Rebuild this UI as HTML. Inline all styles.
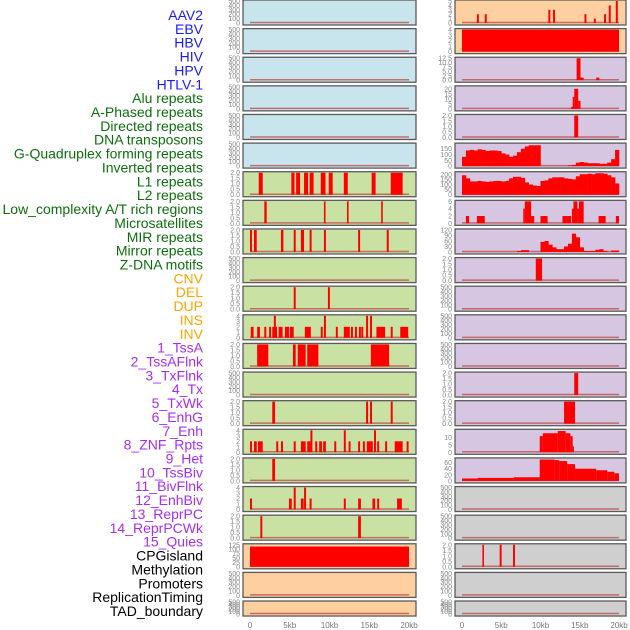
<!DOCTYPE html>
<html><head><meta charset="utf-8"><style>
html,body{margin:0;padding:0;background:#fff;}
svg{display:block;font-family:"Liberation Sans",sans-serif;}
</style></head><body>
<svg id="chart" width="630" height="630" viewBox="0 0 630 630" xmlns="http://www.w3.org/2000/svg"></svg>
<script>
// ---------- data ----------
const labels = ["AAV2","EBV","HBV","HIV","HPV","HTLV-1","Alu repeats","A-Phased repeats","Directed repeats","DNA transposons","G-Quadruplex forming repeats","Inverted repeats","L1 repeats","L2 repeats","Low_complexity A/T rich regions","Microsatellites","MIR repeats","Mirror repeats","Z-DNA motifs","CNV","DEL","DUP","INS","INV","1_TssA","2_TssAFlnk","3_TxFlnk","4_Tx","5_TxWk","6_EnhG","7_Enh","8_ZNF_Rpts","9_Het","10_TssBiv","11_BivFlnk","12_EnhBiv","13_ReprPC","14_ReprPCWk","15_Quies","CPGisland","Methylation","Promoters","ReplicationTiming","TAD_boundary"];
const labelGroups = [6,13,5,15,5];
const xTickValues = [0,5,10,15,20];
const xTickLabels = ["0","5kb","10kb","15kb","20kb"];
// left column: background kind, y-max, bars [startKb, widthKb, value]
const leftBg = ["b","b","b","b","b","b","g","g","g","g","g","g","g","g","g","g","g","g","g","o","o","o"];
const leftMax = [500,500,500,500,500,500,2,2,2,500,2,4,2,500,2,4,2,4,2,125,500,500];
const leftBars = [
 [],[],[],[],[],[],
 [[1.1,0.5,2],[5.2,0.4,2],[5.8,0.5,2],[6.8,0.5,2],[7.5,0.5,2],[8.9,0.6,2],[9.9,0.5,2],[11.8,0.5,2],[15.3,0.5,2],[17.7,1.5,2]],
 [[1.8,0.3,2],[9.3,0.2,2],[12.2,0.2,2],[16.5,0.2,2]],
 [[0,0.25,2],[0.5,0.35,2],[3.9,0.3,2],[5.5,0.25,2],[6.4,0.4,2],[7.5,0.25,2],[9.3,0.25,2],[13.6,0.25,2],[17.2,0.25,2]],
 [],
 [[5.5,0.25,2],[9.8,0.25,2]],
 [[0.1,0.35,2],[0.9,0.35,2],[1.8,0.25,2],[2.4,0.25,2],[2.8,0.6,2],[3.0,0.25,4],[3.6,0.5,2],[4.4,0.5,2],[5.0,0.5,2],[6.9,0.75,2],[8.9,0.25,2],[9.3,0.25,4],[10.8,0.25,2],[11.8,0.75,2],[12.7,0.25,2],[13.2,0.25,2],[13.7,0.25,2],[14.0,0.25,2],[14.6,0.25,4],[15.1,0.25,4],[15.9,1.1,2],[17.7,0.25,2],[18.9,1.0,2]],
 [[0.9,1.4,2],[5.4,0.35,2],[6.0,1.0,2],[7.2,1.4,2],[15.2,2.3,2]],
 [],
 [[2.8,0.35,2],[14.6,0.25,2],[15.1,0.25,2],[17.7,0.25,2]],
 [[0,0.25,2],[0.5,0.35,2],[1.0,0.6,2],[3.3,0.25,2],[3.9,0.25,2],[5.5,0.25,2],[6.4,0.6,2],[7.2,0.4,2],[7.6,0.25,4],[8.2,0.25,2],[8.7,0.35,2],[9.2,0.35,2],[10.6,0.25,2],[11.8,0.25,4],[12.4,0.25,2],[13.6,0.25,2],[14.2,0.25,2],[14.7,0.75,2],[15.6,0.25,4],[16.0,0.25,2],[17.0,0.25,2],[18.2,1.0,2],[19.7,0.25,2]],
 [[2.8,0.35,2]],
 [[0,0.25,2],[4.9,0.35,2],[5.5,0.25,4],[6.4,0.35,2],[6.8,0.25,4],[7.5,0.25,2],[11.8,0.25,2],[13.6,0.35,2],[15.4,0.35,2],[16.0,0.25,2],[18.5,0.6,2]],
 [[1.3,0.25,2],[13.6,0.35,2]],
 [[0,20,115]],
 [],[]
];
// right column
const rightBg = ["o","o","p","p","p","p","p","p","p","p","p","p","p","p","p","p","p","y","y","y","y","y"];
const rightMax = [5,4,12.5,22,2,190,215,6,120,2,500,500,500,2,2,15,72,500,500,2,500,500];
const rightBars = [
 [[1.9,0.25,2],[2.9,0.25,2],[11.0,0.25,3],[11.6,0.25,3],[15.6,0.25,2],[16.8,0.25,1],[18.1,0.25,2],[18.7,0.25,4],[19.6,0.25,5]],
 [[0,20,4]],
 [[14.6,0.5,12.5],[15.1,0.4,1.5],[17.1,0.4,1.5]],
 [[13.9,0.4,2],[14.1,0.2,12],[14.3,0.5,20],[14.8,0.3,8]],
 [[14.3,0.5,2]],
 [],[],
 [[0.5,0.4,2],[1.9,1.0,2],[7.8,0.2,4],[8.0,0.8,6],[8.8,0.4,2],[10.0,0.9,2],[12.8,1.1,2],[14.0,0.2,4],[14.2,0.5,6],[14.7,0.2,4],[14.9,0.6,6],[17.4,0.9,2],[19.6,0.4,2]],
 [],
 [[9.4,0.8,2]],
 [],[],[],
 [[14.3,0.5,2]],
 [[13.0,1.4,2]],
 [[9.9,0.4,11],[10.3,1.9,13],[12.2,1.0,14.5],[13.2,0.6,13],[13.8,0.3,11],[14.1,0.15,4]],
 [[0,2.0,8],[2.0,4.6,10],[6.6,3.3,12],[9.9,1.9,70],[11.8,0.6,68],[12.4,1.0,65],[13.4,1.0,55],[14.4,2.7,40],[17.1,1.4,35],[18.5,0.9,30],[19.4,0.6,25]],
 [],[],
 [[2.6,0.2,2],[4.8,0.25,2],[6.5,0.25,2]],
 [],[]
];
// profiles in 0.5kb bins (right column)
const aluProfile = [80,135,140,135,145,140,130,135,135,130,110,100,80,90,120,150,170,180,180,180,0,0,0,0,0,0,0,5,10,30,35,30,25,25,25,20,20,30,60,140];
const l1Profile = [190,160,130,130,135,130,125,130,135,135,130,135,160,175,175,165,120,100,90,85,135,140,160,170,170,170,160,155,150,180,200,200,205,200,210,210,205,190,170,110];
const mirProfile = [0,0,0,0,0,0,0,0,0,0,0,0,0,0,5,10,10,0,0,0,55,60,40,25,15,15,30,45,100,80,25,5,5,5,12,15,5,0,8,8];
const profilePanel = {5:aluProfile, 6:l1Profile, 8:mirProfile};

// ---------- drawing ----------
const NS="http://www.w3.org/2000/svg";
const svg=document.getElementById('chart');
function mk(tag,attrs,parent){const e=document.createElementNS(NS,tag);for(const k in attrs)e.setAttribute(k,attrs[k]);(parent||svg).appendChild(e);return e;}
const bgColors={b:"#c8e4ec",g:"#c9e2a4",o:"#ffd09f",p:"#d6c6e2",y:"#cfcfcf"};
const groupColors=["#1a1aff","#0e6e0e","#ffa500","#a52ff0","#000000"];
const rowTop=i=>i*28.62;
const rowH=i=>i===21?15:25;
function xScale(col,kb){const x0=col===0?250:462, x1=col===0?409:619;return x0+(x1-x0)*kb/20;}
function tickList(m){
  if(m===500) return [0,100,200,300,400,500];
  if(m===2) return [0,0.5,1,1.5,2];
  if(m===4) return [0,1,2,3,4];
  if(m===5) return [0,1,2,3,4,5];
  if(m===125) return [0,25,50,75,100,125];
  if(m===12.5) return [0,2.5,5,7.5,10,12.5];
  if(m===22) return [0,5,10,15,20];
  if(m===190) return [0,50,100,150];
  if(m===215) return [0,50,100,150,200];
  if(m===6) return [0,2,4,6];
  if(m===120) return [0,30,60,90,120];
  if(m===15) return [0,5,10];
  if(m===72) return [0,20,40,60];
  return [0,m];
}
function fmt(v,m){ if(m===2) return v.toFixed(1); if(m===12.5) return v.toFixed(1); return String(v);}

// labels
let li=0;
labelGroups.forEach((n,g)=>{for(let k=0;k<n;k++){
  if(li>=labels.length) return;
  const t=mk('text',{x:203,y:15+li*13.86+5,'text-anchor':'end','font-size':'14',fill:groupColors[g]});
  t.textContent=labels[li];
  
  
  li++;}});

function drawPanel(col,i,bgKey,ymax,bars,profile){
  const px0=col===0?243:455, px1=col===0?416:626;
  const top=rowTop(i), h=rowH(i), bottom=top+h-2, plotTop=top+1;
  const g=mk('g',{});
  
  
  mk('rect',{x:px0,y:top,width:px1-px0,height:h,fill:bgColors[bgKey],stroke:'#5a5a5a','stroke-width':1.3},g);
  const yS=v=>bottom-(bottom-plotTop)*v/ymax;
  mk('line',{x1:xScale(col,0),x2:xScale(col,20),y1:bottom-0.5,y2:bottom-0.5,stroke:'#c05050','stroke-width':1.5,opacity:0.8},g);
  (bars||[]).forEach(b=>{
    const x=xScale(col,b[0]), w=Math.max(1.2,xScale(col,b[0]+b[1])-x);
    const r=mk('rect',{x:x,y:yS(b[2]),width:w,height:bottom-yS(b[2]),fill:'#ff0000'},g);
    
    
  });
  if(profile){profile.forEach((v,k)=>{ if(v<=0) return;
    const x=xScale(col,k*0.5), w=xScale(col,(k+1)*0.5)-x+0.3;
    const r=mk('rect',{x:x,y:yS(v),width:w,height:bottom-yS(v),fill:'#ff0000'},g);
    
    
  });}
  tickList(ymax).forEach(v=>{
    const t=mk('text',{x:px0-3,y:yS(v)+2.5,'text-anchor':'end','font-size':'7',fill:'#888'},g);
    t.textContent=fmt(v,ymax);
    
    
  });
}
for(let i=0;i<22;i++){
  drawPanel(0,i,leftBg[i],leftMax[i],leftBars[i],null);
  drawPanel(1,i,rightBg[i],rightMax[i],rightBars[i],profilePanel[i]||null);
}
[0,1].forEach(col=>{xTickValues.forEach((v,k)=>{
  const t=mk('text',{x:xScale(col,v),y:628,'text-anchor':'middle','font-size':'8',fill:'#777'});
  t.textContent=xTickLabels[k];
  
  
});});
</script>
</body></html>
